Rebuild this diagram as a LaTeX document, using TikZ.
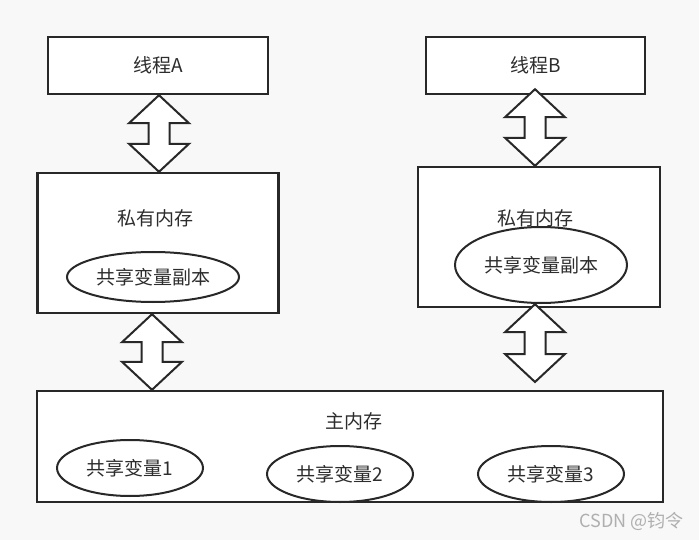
\documentclass[tikz,border=0pt]{standalone}
\usepackage{fontspec}
\setmainfont{Noto Sans CJK SC}
\usetikzlibrary{calc}
\definecolor{bgc}{RGB}{248,248,248}
\definecolor{linec}{RGB}{40,40,40}
\definecolor{textc}{RGB}{45,45,45}
\definecolor{wmc}{RGB}{175,175,175}
\tikzset{
  box/.style={draw=linec, line width=2.4pt, fill=white, rectangle, inner sep=0pt},
  oval/.style={draw=linec, line width=2pt, fill=white, ellipse, inner sep=0pt, font=\fontsize{19}{22}\selectfont, text=textc},
  lbl/.style={font=\fontsize{19}{22}\selectfont, text=textc, inner sep=0pt},
  arrowshape/.style={draw=linec, line width=2pt, fill=white, line join=miter},
}
\usetikzlibrary{shapes.geometric}
\newcommand\dblarrow[2]{%
  \draw[arrowshape] let \p1=#1, \p2=#2 in
    (\x1,\y1) -- ({\x1+30pt},{\y1-28pt}) -- ({\x1+10.5pt},{\y1-28pt}) --
    ({\x1+10.5pt},{\y2+28pt}) -- ({\x1+30pt},{\y2+28pt}) -- (\x1,\y2) --
    ({\x1-30pt},{\y2+28pt}) -- ({\x1-10.5pt},{\y2+28pt}) --
    ({\x1-10.5pt},{\y1-28pt}) -- ({\x1-30pt},{\y1-28pt}) -- cycle;}
\begin{document}
\begin{tikzpicture}[x=1pt,y=-1pt]
\fill[bgc] (0,0) rectangle (699,540);
\useasboundingbox (0,0) rectangle (699,540);
% boxes
\node[box, minimum width=220pt, minimum height=57pt] (tA) at (158,65.5) {};
\node[lbl] at (tA) {线程A};
\node[box, minimum width=219pt, minimum height=57pt] (tB) at (535.5,65.5) {};
\node[lbl] at (tB) {线程B};
\node[box, minimum width=241pt, minimum height=140pt] (pA) at (158,243) {};
\node[lbl] (pAl) at (155,218) {私有内存};
\node[oval, minimum width=172pt, minimum height=50pt] (eA) at (153,277) {共享变量副本};
\node[box, minimum width=242pt, minimum height=140pt] (pB) at (539,237) {};
\node[lbl] (pBl) at (535,218) {私有内存};
\node[oval, minimum width=172pt, minimum height=76pt] (eB) at (541,265) {共享变量副本};
\node[box, minimum width=626pt, minimum height=111pt] (mm) at (350,446.5) {};
\node[lbl] (mml) at (354,421) {主内存};
\node[oval, minimum width=146pt, minimum height=56pt] (v1) at (130,468) {共享变量1};
\node[oval, minimum width=146pt, minimum height=56pt] (v2) at (340,474) {共享变量2};
\node[oval, minimum width=146pt, minimum height=56pt] (v3) at (551,474) {共享变量3};
% arrows
\coordinate (a1t) at ($(tA.south)+(1,0)$);
\coordinate (a1b) at ($(pA.north)+(1,0)$);
\dblarrow{(a1t)}{(a1b)}
\coordinate (a2t) at ($(tB.south)+(-0.5,-6)$);
\coordinate (a2b) at ($(pB.north)+(-4,0)$);
\dblarrow{(a2t)}{(a2b)}
\coordinate (a3t) at ($(pA.south)+(-6,0)$);
\coordinate (a3b) at ($(mm.north)+(-198,0)$);
\dblarrow{(a3t)}{(a3b)}
\coordinate (a4t) at ($(pB.south)+(-4,-4)$);
\coordinate (a4b) at (535,382);
\dblarrow{(a4t)}{(a4b)}
% watermark
\node[font=\fontsize{18}{21}\selectfont, text=wmc, anchor=east, inner sep=0pt] (wm) at (684,521) {CSDN @钧令};
\end{tikzpicture}
\end{document}
